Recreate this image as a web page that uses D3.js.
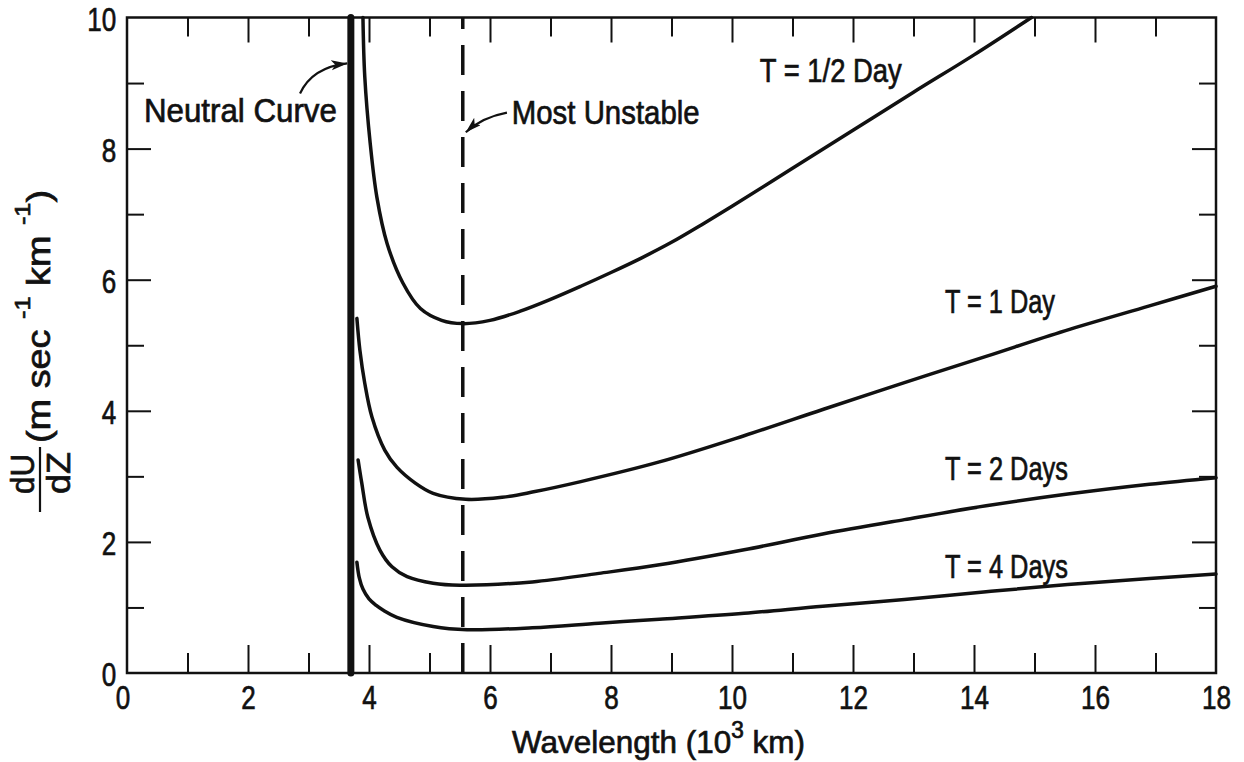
<!DOCTYPE html>
<html><head><meta charset="utf-8">
<script src="https://cdn.jsdelivr.net/npm/d3@7"></script>
<style>body{margin:0;background:#fff}svg{display:block}text{stroke:#111;stroke-width:0.7px}</style>
</head><body>
<svg id="c" width="1244" height="762"></svg>
<script>
// ---------------- data ----------------
const xTickValues = [0, 2, 4, 6, 8, 10, 12, 14, 16, 18];
const yTickValues = [0, 2, 4, 6, 8, 10];
const seriesNames = ["T = 1/2 Day", "T = 1 Day", "T = 2 Days", "T = 4 Days"];

const halfDayX = [3.90, 3.93, 4.02, 4.13, 4.30, 4.56, 4.85, 5.20, 5.55, 6.00, 6.50, 7.00, 7.50, 8.00, 8.50, 9.00, 9.50, 10.00, 11.00, 12.00, 13.00, 14.00, 14.95];
const halfDayY = [10.0, 9.10, 8.08, 7.26, 6.55, 5.95, 5.56, 5.38, 5.33, 5.38, 5.52, 5.70, 5.90, 6.11, 6.33, 6.57, 6.84, 7.12, 7.70, 8.28, 8.86, 9.43, 10.0];

const oneDayX = [3.80, 3.85, 3.93, 4.05, 4.26, 4.46, 4.76, 5.06, 5.60, 6.20, 6.70, 7.50, 8.80, 10.20, 11.50, 12.85, 14.20, 15.50, 16.90, 18.0];
const oneDayY = [5.41, 4.92, 4.42, 3.90, 3.40, 3.14, 2.90, 2.74, 2.65, 2.68, 2.76, 2.92, 3.22, 3.62, 4.02, 4.43, 4.83, 5.22, 5.60, 5.90];

const twoDaysX = [3.82, 3.88, 3.98, 4.18, 4.38, 4.63, 5.06, 5.50, 6.70, 7.80, 8.80, 10.20, 11.50, 12.85, 14.20, 15.55, 16.90, 18.0];
const twoDaysY = [3.25, 2.90, 2.38, 1.875, 1.62, 1.47, 1.37, 1.34, 1.39, 1.52, 1.65, 1.88, 2.12, 2.34, 2.55, 2.73, 2.88, 2.98];

const fourDaysX = [3.80, 3.84, 3.90, 4.00, 4.12, 4.23, 4.46, 5.06, 5.62, 6.70, 7.80, 8.80, 10.20, 11.50, 12.85, 14.20, 15.55, 16.90, 18.0];
const fourDaysY = [1.69, 1.45, 1.28, 1.13, 1.03, 0.96, 0.85, 0.71, 0.66, 0.69, 0.76, 0.82, 0.91, 1.02, 1.12, 1.24, 1.35, 1.44, 1.51];

const neutralWavelength = 3.70;      // neutral curve
const mostUnstableWavelength = 5.55; // most unstable wavelength

// ---------------- layout ----------------
const FONT = "'Liberation Sans Narrow','Liberation Sans',Arial,sans-serif";
const INK = "#111";
const svg = d3.select("#c");
const x = d3.scaleLinear().domain([0, 18]).range([127, 1216]);
const y = d3.scaleLinear().domain([0, 10]).range([673, 17.5]);

function fitWidth(textSel, target) {
  textSel.each(function() {
    const w = this.getBBox().width;
    if (w > 0) {
      const prev = d3.select(this).attr("transform") || "";
      d3.select(this).attr("transform", prev + ` scale(${target / w},1)`);
    }
  });
}

// ---------------- axes (ticks inside) ----------------
const odd = d3.range(1, 18, 2), even = d3.range(2, 18, 2);
const yOdd = d3.range(1, 10, 2), yEven = d3.range(2, 10, 2);

function styleAxis(g) {
  g.select(".domain").remove();
  g.selectAll(".tick line").attr("stroke", INK).attr("stroke-width", 2);
}
function ticks(axisFn, pos, vals, len) {
  svg.append("g").attr("transform", pos)
    .call(axisFn.tickValues(vals).tickSizeInner(-len).tickSizeOuter(0).tickFormat(""))
    .call(styleAxis);
}
ticks(d3.axisBottom(x), `translate(0,${y(0)})`, even, 28);
ticks(d3.axisBottom(x), `translate(0,${y(0)})`, odd, 20);
ticks(d3.axisTop(x), `translate(0,${y(10)})`, even, 25);
ticks(d3.axisTop(x), `translate(0,${y(10)})`, odd, 19);
ticks(d3.axisLeft(y), `translate(${x(0)},0)`, yEven, 24);
ticks(d3.axisLeft(y), `translate(${x(0)},0)`, yOdd, 17);
ticks(d3.axisRight(y), `translate(${x(18)},0)`, yEven, 24);
ticks(d3.axisRight(y), `translate(${x(18)},0)`, yOdd, 17);

// tick labels through axes
const xLab = svg.append("g").attr("transform", `translate(0,${y(0)})`)
  .call(d3.axisBottom(x).tickValues(xTickValues).tickSize(0).tickPadding(12).tickFormat(d3.format("d")));
xLab.select(".domain").remove();
xLab.selectAll("text").attr("font-family", FONT).attr("font-size", 34).attr("fill", INK)
  .attr("dx", d => d === 0 ? -6 : 0);
xLab.selectAll("text").each(function(d) { fitWidth(d3.select(this), String(d).length * 14.5); });

const yLab = svg.append("g").attr("transform", `translate(${x(0)},0)`)
  .call(d3.axisLeft(y).tickValues(yTickValues).tickSize(0).tickPadding(14).tickFormat(d3.format("d")));
yLab.select(".domain").remove();
yLab.selectAll("text").attr("font-family", FONT).attr("font-size", 34).attr("fill", INK).attr("dy", "0.38em");
yLab.selectAll("text").each(function(d) { fitWidth(d3.select(this), String(d).length * 14.5); });

// frame
svg.append("rect")
  .attr("x", x(0)).attr("y", y(10)).attr("width", x(18) - x(0)).attr("height", y(0) - y(10))
  .attr("fill", "none").attr("stroke", INK).attr("stroke-width", 2.5);

// ---------------- marks ----------------
const series = [
  { name: seriesNames[0], xs: halfDayX, ys: halfDayY },
  { name: seriesNames[1], xs: oneDayX, ys: oneDayY },
  { name: seriesNames[2], xs: twoDaysX, ys: twoDaysY },
  { name: seriesNames[3], xs: fourDaysX, ys: fourDaysY }
];
const line = d3.line().x(d => x(d[0])).y(d => y(d[1])).curve(d3.curveCatmullRom.alpha(0.5));

svg.append("g").selectAll("path").data(series).join("path")
  .attr("d", s => line(s.xs.map((v, i) => [v, s.ys[i]])))
  .attr("fill", "none").attr("stroke", INK).attr("stroke-width", 3.5)
  .attr("stroke-linecap", "round").attr("stroke-linejoin", "round");

// neutral curve (heavy vertical)
svg.append("line")
  .attr("x1", x(neutralWavelength)).attr("x2", x(neutralWavelength))
  .attr("y1", y(0)).attr("y2", y(10))
  .attr("stroke", INK).attr("stroke-width", 7).attr("stroke-linecap", "round");

// most unstable (dashed)
svg.append("line")
  .attr("x1", x(mostUnstableWavelength)).attr("x2", x(mostUnstableWavelength))
  .attr("y1", y(0)).attr("y2", y(10))
  .attr("stroke", INK).attr("stroke-width", 3.5).attr("stroke-dasharray", "30,16");

// ---------------- annotations ----------------
svg.append("defs").append("marker")
  .attr("id", "ah").attr("markerUnits", "userSpaceOnUse")
  .attr("markerWidth", 18).attr("markerHeight", 12).attr("refX", 16).attr("refY", 5)
  .attr("orient", "auto")
  .append("path").attr("d", "M0,0 L16,5 L0,10 L4,5 Z").attr("fill", INK);

function arrow(p0, c, p1) {
  const p = d3.path();
  p.moveTo(x(p0[0]), y(p0[1]));
  p.quadraticCurveTo(x(c[0]), y(c[1]), x(p1[0]), y(p1[1]));
  svg.append("path").attr("d", p.toString()).attr("fill", "none")
    .attr("stroke", INK).attr("stroke-width", 2.2).attr("marker-end", "url(#ah)");
}
arrow([2.86, 8.84], [3.06, 9.24], [3.64, 9.30]);
arrow([6.28, 8.55], [5.87, 8.48], [5.60, 8.25]);

function label(txt, xv, yv, width, size) {
  const g = svg.append("g").attr("transform", `translate(${x(xv)},${y(yv)})`);
  const t = g.append("text").attr("font-family", FONT).attr("font-size", size || 34)
    .attr("fill", INK).text(txt);
  fitWidth(t, width);
}
label("Neutral Curve", 0.28, 8.40, 193);
label("Most Unstable", 6.36, 8.38, 188);
label(seriesNames[0], 10.46, 9.01, 142);
label(seriesNames[1], 13.52, 5.49, 110);
label(seriesNames[2], 13.52, 2.94, 123);
label(seriesNames[3], 13.52, 1.45, 123);

// x axis title
{
  const g = svg.append("g").attr("transform", "translate(512,753)");
  const t = g.append("text").attr("font-family", FONT).attr("font-size", 32).attr("fill", INK);
  t.append("tspan").text("Wavelength  (10");
  t.append("tspan").attr("font-size", 23).attr("dy", -15).text("3");
  t.append("tspan").attr("dy", 15).text(" km)");
  fitWidth(t, 293);
}

// y axis title (rotated)
{
  const g = svg.append("g").attr("transform", "translate(50,443) rotate(-90)");
  const t = g.append("text").attr("font-family", FONT).attr("font-size", 33).attr("fill", INK);
  t.append("tspan").text("(m sec ");
  t.append("tspan").attr("font-size", 22).attr("dy", -20).text("-1");
  t.append("tspan").attr("dy", 20).text(" km ");
  t.append("tspan").attr("font-size", 22).attr("dy", -20).text("-1");
  t.append("tspan").attr("dy", 20).text(")");
  fitWidth(t, 253);

  const f = svg.append("g");
  f.append("line").attr("x1", 40).attr("x2", 40).attr("y1", 447).attr("y2", 512)
    .attr("stroke", INK).attr("stroke-width", 2.2);
  const a = f.append("g").attr("transform", "translate(34,494) rotate(-90)");
  fitWidth(a.append("text").attr("font-family", FONT).attr("font-size", 33).attr("fill", INK).text("dU"), 40);
  const b = f.append("g").attr("transform", "translate(70,494) rotate(-90)");
  fitWidth(b.append("text").attr("font-family", FONT).attr("font-size", 33).attr("fill", INK).text("dZ"), 42);
}
</script>
</body></html>
